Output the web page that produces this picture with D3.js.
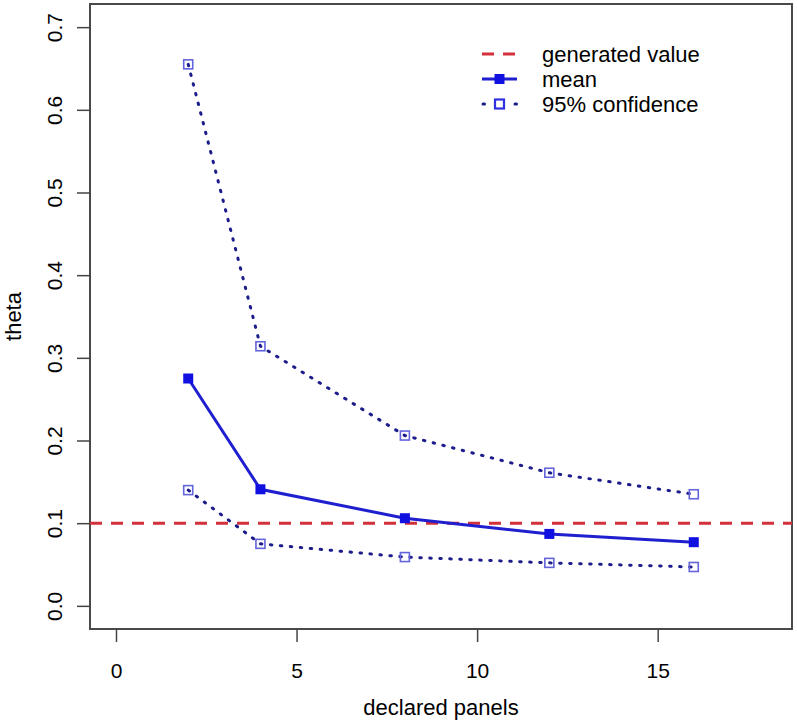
<!DOCTYPE html>
<html>
<head>
<meta charset="utf-8">
<script src="https://cdn.jsdelivr.net/npm/d3@7"></script>
<style>
  body { margin: 0; background: #fff; }
  svg { display: block; font-family: "Liberation Sans", Arial, sans-serif; }
</style>
</head>
<body>
<svg id="chart" width="797" height="725"></svg>
<script>
// ---- data ----
const panels = [2, 4, 8, 12, 16];
const meanTheta = [0.275, 0.141, 0.106, 0.087, 0.077];
const upperCI = [0.655, 0.314, 0.206, 0.161, 0.135];
const lowerCI = [0.140, 0.075, 0.059, 0.052, 0.047];
const generatedValue = 0.1;
const xTicks = [0, 5, 10, 15];
const yTicks = [0.0, 0.1, 0.2, 0.3, 0.4, 0.5, 0.6, 0.7];
const legendLabels = ["generated value", "mean", "95% confidence"];

// ---- layout ----
const svg = d3.select("#chart");
const L = 90, R = 792, T = 4, B = 629;
const x = d3.scaleLinear().domain([-0.72, 18.72]).range([L, R]);
const y = d3.scaleLinear().domain([-0.028, 0.728]).range([B, T]);

const navy = "#1c1c8a";
const blue = "#1f1fcf";
const red = "#d2303a";

// box
svg.append("rect").attr("x", L).attr("y", T).attr("width", R - L).attr("height", B - T)
  .attr("fill", "none").attr("stroke", "#4a4a4a").attr("stroke-width", 2);

// x axis
const xAxis = svg.append("g").attr("transform", `translate(0,${B})`)
  .call(d3.axisBottom(x).tickValues(xTicks).tickSize(13).tickPadding(21).tickFormat(d3.format("d")));
xAxis.select(".domain").remove();
xAxis.selectAll("line").attr("stroke", "#444").attr("stroke-width", 1.5);
xAxis.selectAll("text").attr("font-size", 21).attr("fill", "#000").attr("font-family", "Liberation Sans, Arial, sans-serif");

// y axis
const yAxis = svg.append("g").attr("transform", `translate(${L},0)`)
  .call(d3.axisLeft(y).tickValues(yTicks).tickSize(13).tickFormat(d3.format(".1f")));
yAxis.select(".domain").remove();
yAxis.selectAll("line").attr("stroke", "#444").attr("stroke-width", 1.5);
yAxis.selectAll("text").remove();
yAxis.selectAll(".tick").append("text")
  .attr("transform", "translate(-28,0) rotate(-90)")
  .attr("text-anchor", "middle")
  .attr("font-size", 21)
  .attr("fill", "#000")
  .attr("font-family", "Liberation Sans, Arial, sans-serif")
  .text(d => d3.format(".1f")(d));

// axis titles
svg.append("text").attr("x", (L + R) / 2).attr("y", 715).attr("text-anchor", "middle")
  .attr("font-size", 22).text("declared panels");
svg.append("text").attr("transform", `translate(21,${(T + B) / 2}) rotate(-90)`)
  .attr("text-anchor", "middle").attr("font-size", 22).text("theta");

// generated value line
svg.append("line").attr("x1", L).attr("x2", R).attr("y1", y(generatedValue)).attr("y2", y(generatedValue))
  .attr("stroke", red).attr("stroke-width", 3).attr("stroke-dasharray", "12,9");

const line = d3.line().x(d => x(d[0])).y(d => y(d[1]));
const zip = (a, b) => a.map((v, i) => [v, b[i]]);

// CI lines
[upperCI, lowerCI].forEach(arr => {
  svg.append("path").datum(zip(panels, arr)).attr("d", line)
    .attr("fill", "none").attr("stroke", navy).attr("stroke-width", 3)
    .attr("stroke-linecap", "round").attr("stroke-dasharray", "1.5,8.5");
  svg.selectAll(null).data(zip(panels, arr)).enter().append("rect")
    .attr("x", d => x(d[0]) - 4.5).attr("y", d => y(d[1]) - 4.5)
    .attr("width", 9).attr("height", 9)
    .attr("fill", "none").attr("stroke", "#6464dc").attr("stroke-width", 1.6);
});

// mean line
svg.append("path").datum(zip(panels, meanTheta)).attr("d", line)
  .attr("fill", "none").attr("stroke", blue).attr("stroke-width", 3);
svg.selectAll(null).data(zip(panels, meanTheta)).enter().append("rect")
  .attr("x", d => x(d[0]) - 5).attr("y", d => y(d[1]) - 5)
  .attr("width", 10).attr("height", 10).attr("fill", "#1010e0");

// legend
const lg = svg.append("g");
const lx1 = 482, lx2 = 517, ltx = 542, ly0 = 54, ldy = 25;
legendLabels.forEach((lab, i) => {
  const yy = ly0 + i * ldy;
  lg.append("text").attr("x", ltx).attr("y", yy + 8).attr("font-size", 22).text(lab);
  if (i === 0) {
    lg.append("line").attr("x1", lx1).attr("x2", lx2).attr("y1", yy).attr("y2", yy)
      .attr("stroke", red).attr("stroke-width", 3).attr("stroke-dasharray", "12,9");
  } else if (i === 1) {
    lg.append("line").attr("x1", lx1).attr("x2", lx2).attr("y1", yy).attr("y2", yy)
      .attr("stroke", blue).attr("stroke-width", 3);
    lg.append("rect").attr("x", (lx1 + lx2) / 2 - 5).attr("y", yy - 5).attr("width", 10).attr("height", 10)
      .attr("fill", "#1010e0");
  } else {
    lg.append("line").attr("x1", lx1 + 1).attr("x2", lx2).attr("y1", yy).attr("y2", yy)
      .attr("stroke", navy).attr("stroke-width", 3).attr("stroke-linecap", "round")
      .attr("stroke-dasharray", "1.5,14.5");
    lg.append("rect").attr("x", (lx1 + lx2) / 2 - 4.5).attr("y", yy - 4.5).attr("width", 9).attr("height", 9)
      .attr("fill", "#fff").attr("stroke", "#3030e0").attr("stroke-width", 2.2);
  }
});
</script>
</body>
</html>
